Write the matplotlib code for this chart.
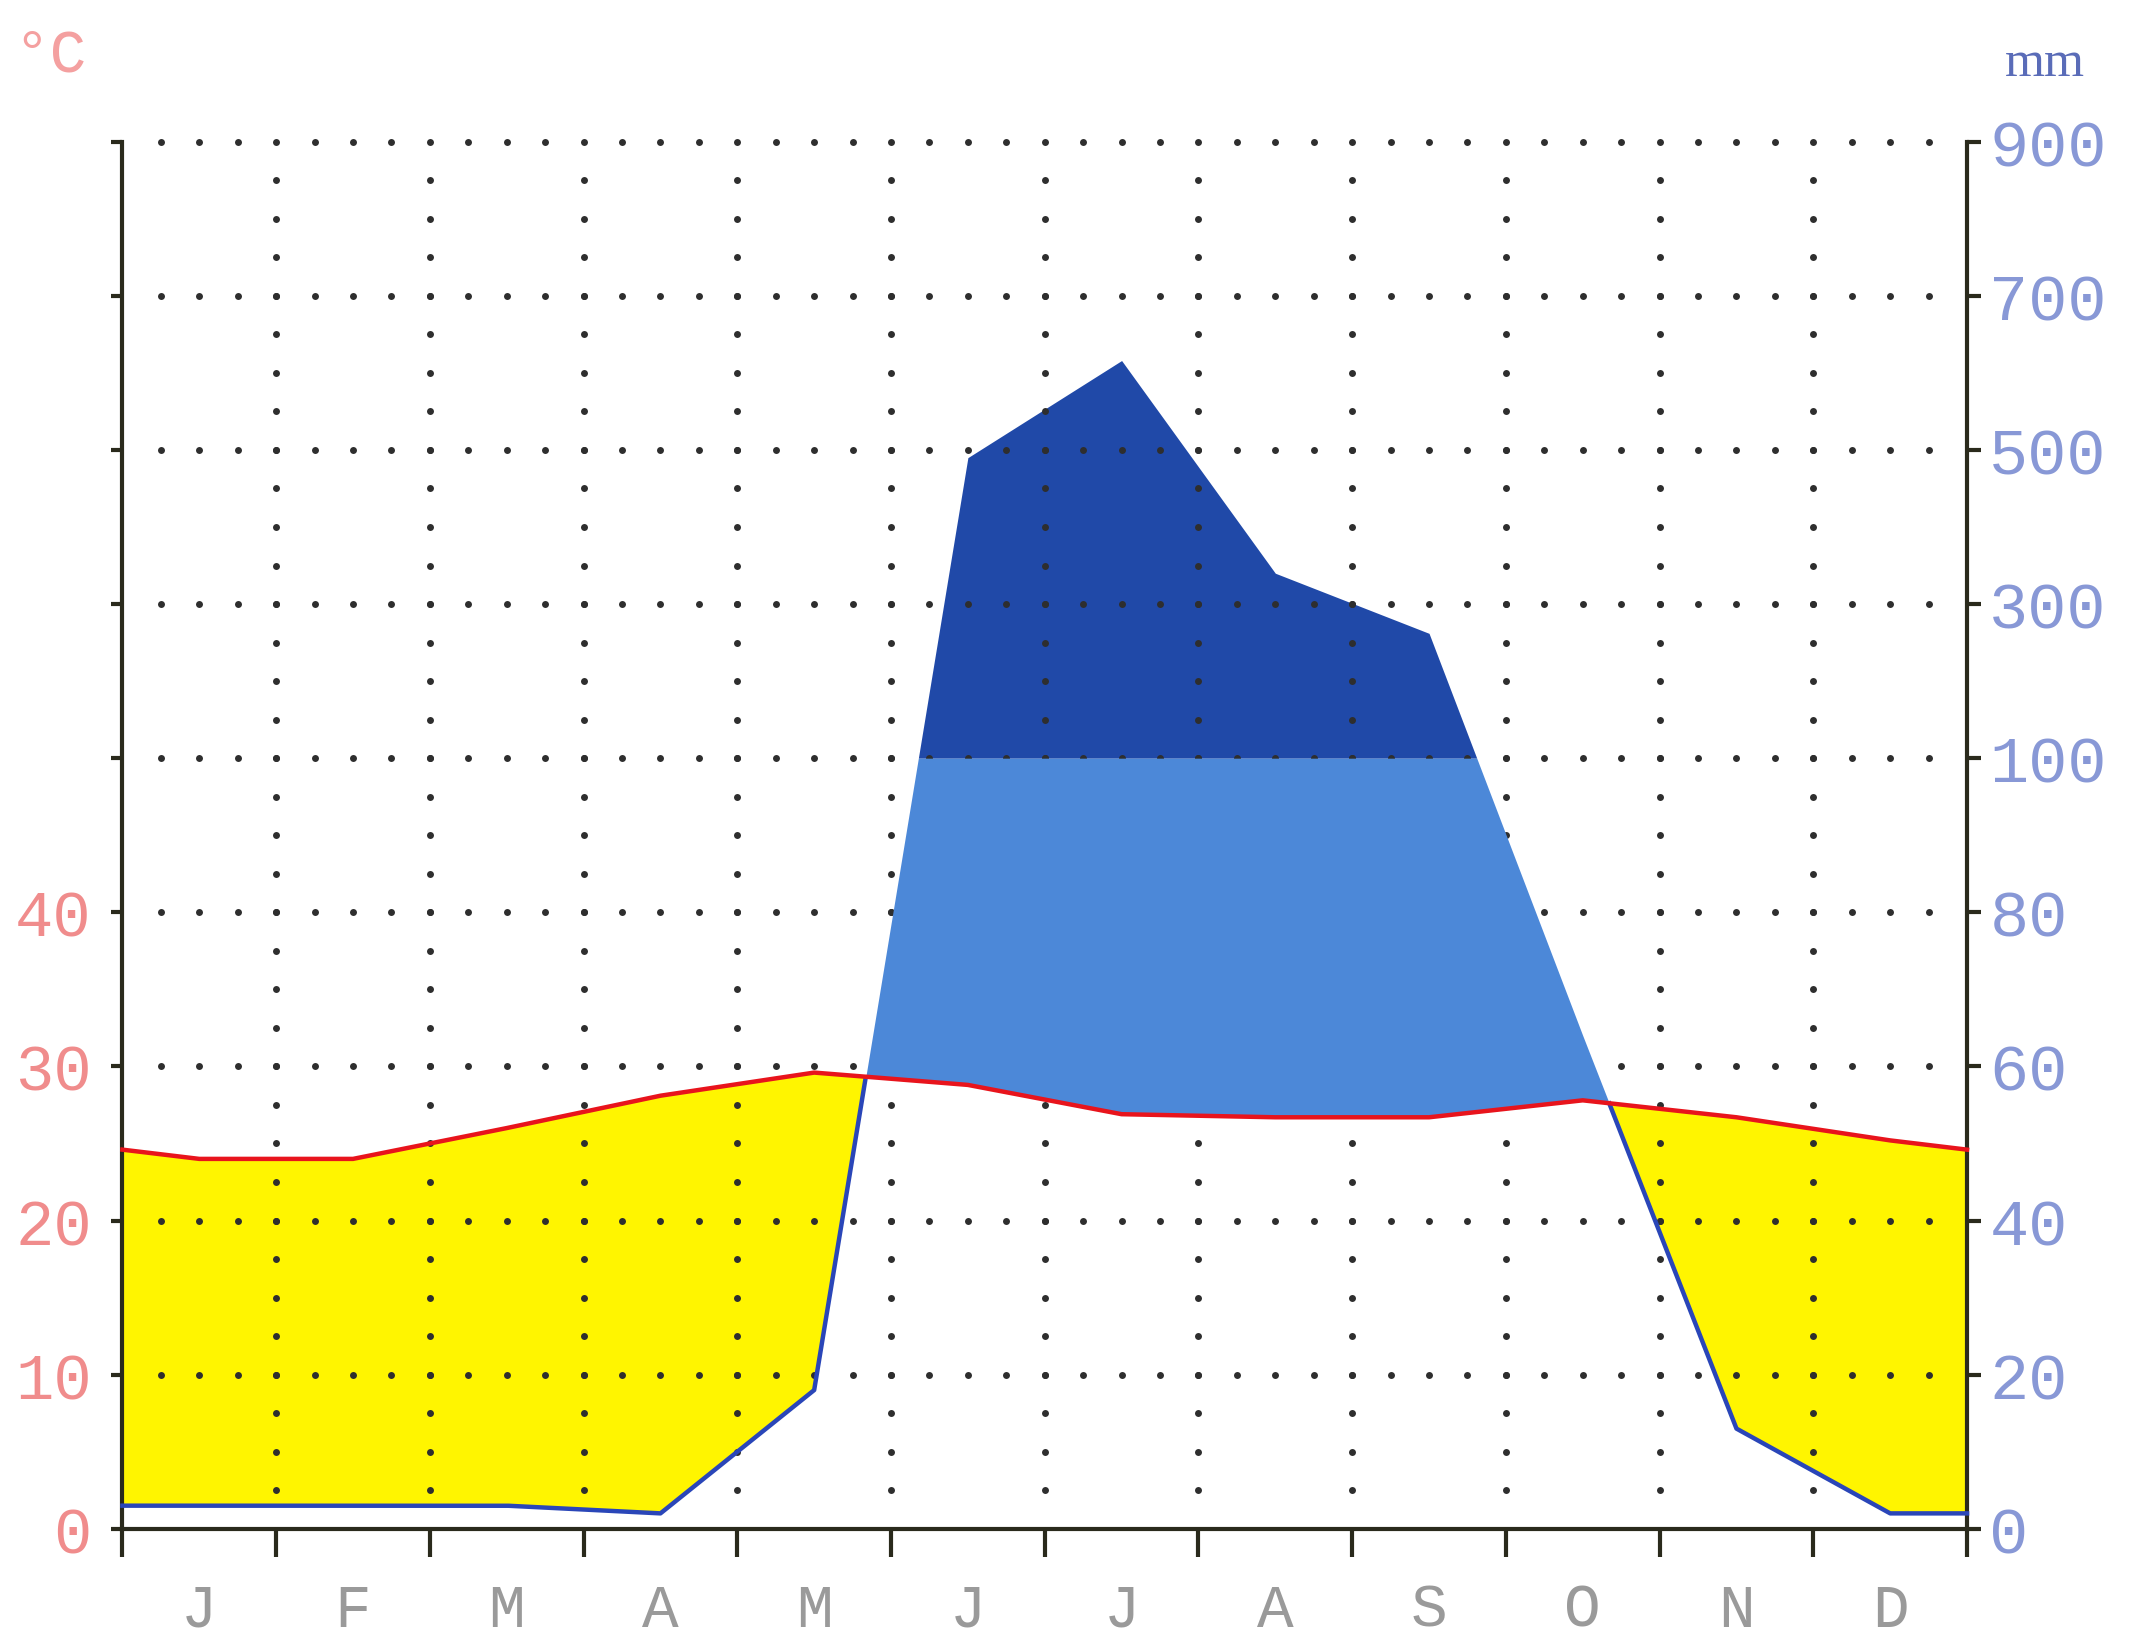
"""
Diagramme ombrothermique (Walter-Lieth)

temperature en degres C, precipitations en mm
au dela de 100 mm l'echelle est compressee (1 graduation = 200 mm)
"""
import numpy as np
import matplotlib.pyplot as plt

## donnees mensuelles
mois = ["J", "F", "M", "A", "M", "J", "J", "A", "S", "O", "N", "D"]
temperature = [24.0, 24.0, 26.0, 28.1, 29.6, 28.8, 26.9, 26.7, 26.7, 27.8, 26.7, 25.2]
precipitation = [3, 3, 3, 2, 18, 490, 616, 340, 262, 64, 13, 2]

ticks_temp = [0, 10, 20, 30, 40]
ticks_precip = [0, 20, 40, 60, 80, 100, 300, 500, 700, 900]

COUL_TEMP = "#e8141c"
COUL_PRECIP = "#2a46b8"
JAUNE = "#fff500"
BLEU_CLAIR = "#4c88d8"
BLEU_FONCE = "#2049a8"
AXE = "#2a2a1c"


def echelle_precip(p):
    # mm -> unites du graphique (2 mm par degre, puis 20 mm par degre au dela de 100)
    p = np.asarray(p, dtype=float)
    return np.where(p <= 100, p / 2.0, 50 + (p - 100) / 20.0)


def main():
    plt.rcParams['font.family'] = ['Liberation Mono', 'DejaVu Sans']

    # points au milieu des mois, prolonges aux bords par la moyenne janvier/decembre
    x = np.concatenate([[0], np.arange(12) + 0.5, [12]])
    t = np.array(temperature, dtype=float)
    p = echelle_precip(precipitation)
    t = np.concatenate([[(t[0] + t[-1]) / 2], t, [(t[0] + t[-1]) / 2]])
    p = np.concatenate([[p[0]], p, [p[-1]]])

    # grille fine pour les remplissages (segments droits conserves)
    xf = np.linspace(0, 12, 4801)
    tf = np.interp(xf, x, t)
    pf = np.interp(xf, x, p)

    fig = plt.figure(figsize=(21.33, 16.4), dpi=100)
    ax = fig.add_axes([0.0574, 0.0672, 0.8648, 0.8458])

    # periode seche
    ax.fill_between(xf, pf, tf, where=tf >= pf, interpolate=True,
                    color=JAUNE, lw=0, zorder=1)
    # periode humide
    ax.fill_between(xf, tf, np.minimum(pf, 50), where=pf >= tf, interpolate=True,
                    color=BLEU_CLAIR, lw=0, zorder=3)
    # periode tres humide (> 100 mm)
    ax.fill_between(xf, 50, pf, where=pf >= 50, interpolate=True,
                    color=BLEU_FONCE, lw=0, zorder=1)

    # grille en pointilles
    gx = np.arange(0.25, 12, 0.25)
    for yl in range(10, 91, 10):
        ax.plot(gx, np.full(len(gx), yl), ls='none', marker='o', ms=5,
                mfc='#2e2e2e', mec='none', zorder=2, clip_on=False)
    gy = np.arange(2.5, 90, 2.5)
    for xl in range(1, 12):
        ax.plot(np.full(len(gy), xl), gy, ls='none', marker='o', ms=5,
                mfc='#2e2e2e', mec='none', zorder=2)

    # courbes
    ax.plot(x, t, color=COUL_TEMP, lw=3.2, zorder=5, clip_on=False)
    ax.plot(xf, np.ma.masked_where(pf > tf + 0.05, pf), color=COUL_PRECIP,
            lw=3.2, zorder=4, clip_on=False)

    ax.set_xlim(0, 12)
    ax.set_ylim(0, 90)

    # axes
    for s in ['left', 'right', 'bottom']:
        ax.spines[s].set_linewidth(3)
        ax.spines[s].set_color(AXE)
    ax.spines['top'].set_visible(False)

    ax.set_xticks(np.arange(13))
    ax.set_xticklabels([])
    ax.set_xticks(np.arange(12) + 0.5, minor=True)
    ax.set_xticklabels(mois, minor=True)
    ax.tick_params(axis='x', which='major', direction='out', length=20,
                   width=3, color=AXE)
    ax.tick_params(axis='x', which='minor', length=0, pad=38,
                   labelsize=44, labelcolor='#9a9a9a')

    ax.set_yticks(np.arange(0, 91, 10))
    ax.set_yticklabels([str(v) for v in ticks_temp] + [''] * 5)
    ax.tick_params(axis='y', direction='out', length=8, width=3, color=AXE,
                   pad=14, labelsize=46, labelcolor='#f08c8c')

    ax2 = ax.twinx()
    ax2.set_ylim(0, 90)
    ax2.set_yticks(echelle_precip(ticks_precip))
    ax2.set_yticklabels([str(v) for v in ticks_precip])
    ax2.tick_params(axis='y', direction='out', length=10, width=3, color=AXE,
                    pad=6, labelsize=47, labelcolor='#8898d6')
    for s in ax2.spines.values():
        s.set_visible(False)

    fig.text(0.006, 0.966, "°C", fontsize=44, color='#f4a0a0', va='center')
    fig.text(0.940, 0.961, "mm", fontsize=37, color='#5a6cb8', va='center',
             family='Liberation Serif')

    fig.savefig("out.png", dpi=100, facecolor='white')


if __name__ == "__main__":
    main()
